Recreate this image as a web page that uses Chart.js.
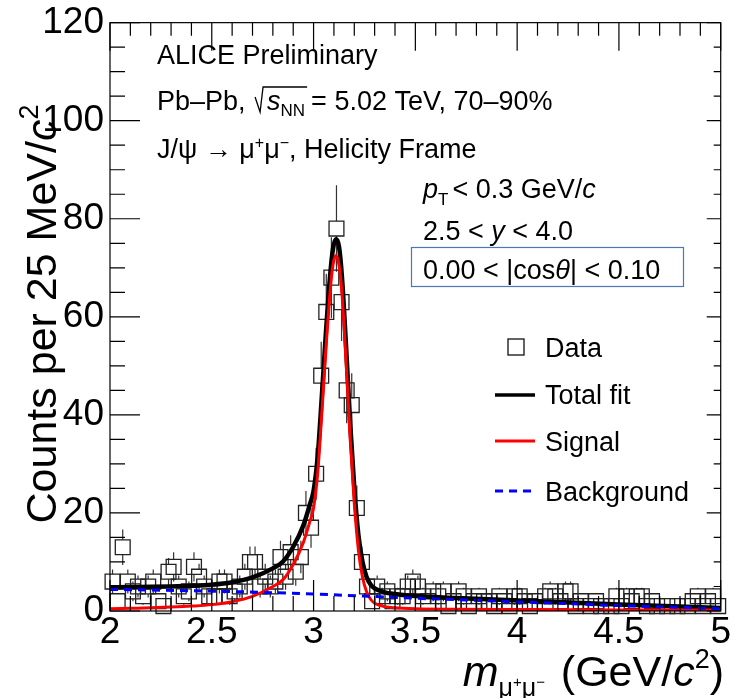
<!DOCTYPE html>
<html>
<head>
<meta charset="utf-8">
<script src="https://cdn.jsdelivr.net/npm/chart.js@4.4.1/dist/chart.umd.min.js"></script>
<style>
  html, body { margin: 0; padding: 0; background: #fff; }
  canvas { display: block; }
</style>
</head>
<body>
<canvas id="massChart" width="734" height="698"></canvas>
<script>
// histogram binning: 2.0 - 5.0 GeV/c2, 25 MeV bins
const binLow = 2.0;
const binWidth = 0.025;
const counts = [
  6, 2, 13, 6, 4, 5, 3, 5, 6, 2,
  1, 8, 9, 5, 3, 4, 9, 7, 5, 3,
  3, 6, 6, 3, 4, 5, 7, 10, 10, 5,
  7, 5, 6, 11, 7, 12, 8, 11, 20, 17,
  28, 48, 61, 68, 78, 63, 45, 42, 21, 10,
  5, 2, 5, 3, 4, 2, 3, 3, 5, 6,
  5, 3, 2, 4, 3, 4, 1, 2, 4, 3,
  1, 2, 3, 2, 2, 1, 3, 2, 1, 3,
  3, 2, 1, 2, 0, 3, 4, 3, 2, 4,
  4, 1, 2, 0, 1, 2, 1, 0, 1, 3,
  1, 3, 2, 3, 3, 1, 2, 1, 0, 1,
  0, 1, 0, 1, 2, 3, 1, 2, 3, 1
];

// fit curves
const fitMass = [2.0, 2.1, 2.2, 2.3, 2.4, 2.5, 2.6, 2.7, 2.8, 2.85, 2.9, 2.95, 2.98, 3.0, 3.02, 3.04,
  3.06, 3.08, 3.095, 3.11, 3.125, 3.14, 3.16, 3.18, 3.2, 3.22, 3.24, 3.26, 3.28, 3.3, 3.35, 3.4,
  3.5, 3.7, 4.0, 4.5, 5.0];
const signalFit = [0.45, 0.55, 0.65, 0.8, 1.0, 1.3, 1.9, 3.0, 5.0, 6.4, 9.5, 14, 18, 21, 28, 40,
  53, 64.5, 70.5, 72.5, 70.5, 64.5, 50.5, 35, 22, 12.5, 7, 4, 2.4, 1.6, 0.9, 0.65,
  0.45, 0.35, 0.3, 0.22, 0.18];
const totalFit = [4.85, 4.9, 4.93, 5.0, 5.13, 5.35, 5.85, 6.85, 8.7, 10.1, 13.1, 17.5, 21.5, 24.5, 31.4, 43.4,
  56.4, 67.8, 73.8, 75.8, 74.3, 67.8, 53.7, 38.2, 25.2, 15.6, 10.1, 7.0, 5.4, 4.6, 3.8, 3.47,
  3.05, 2.67, 2.15, 1.32, 0.63];
const bgMass = [2.0, 2.25, 2.5, 2.75, 3.0, 3.25, 3.5, 3.75, 4.0, 4.25, 4.5, 4.75, 5.0];
const bgFit = [4.4, 4.25, 4.05, 3.8, 3.45, 3.05, 2.6, 2.25, 1.85, 1.5, 1.1, 0.8, 0.45];

const xTickLabels = ['2', '2.5', '3', '3.5', '4', '4.5', '5'];
const yTickLabels = ['0', '20', '40', '60', '80', '100', '120'];

const FONT = '"Liberation Sans", Arial, Helvetica, sans-serif';
const markerHalf = 7.4;

const dataPoints = counts.map((c, i) => ({ x: binLow + (i + 0.5) * binWidth, y: c }));
const toXY = (xs, ys) => xs.map((m, i) => ({ x: m, y: ys[i] }));

function drawRich(ctx, x, y, parts) {
  for (const p of parts) {
    ctx.font = (p.italic ? 'italic ' : '') + p.size + 'px ' + FONT;
    ctx.fillText(p.t, x, y + (p.dy || 0));
    x += ctx.measureText(p.t).width + (p.gap || 0);
  }
  return x;
}

function richWidth(ctx, parts) {
  let w = 0;
  for (const p of parts) {
    ctx.font = (p.italic ? 'italic ' : '') + p.size + 'px ' + FONT;
    w += ctx.measureText(p.t).width + (p.gap || 0);
  }
  return w;
}

const errorBars = {
  id: 'errorBars',
  beforeDatasetsDraw(chart) {
    const { ctx, scales: { x, y } } = chart;
    ctx.save();
    ctx.strokeStyle = '#333';
    ctx.lineWidth = 1.2;
    ctx.beginPath();
    dataPoints.forEach(p => {
      if (p.y <= 0) return;
      const err = Math.sqrt(p.y);
      const px = x.getPixelForValue(p.x);
      const py = y.getPixelForValue(p.y);
      const up = y.getPixelForValue(p.y + err);
      const dn = Math.min(y.getPixelForValue(p.y - err), y.bottom);
      if (up < py - markerHalf) { ctx.moveTo(px, up); ctx.lineTo(px, py - markerHalf); }
      if (dn > py + markerHalf) { ctx.moveTo(px, py + markerHalf); ctx.lineTo(px, dn); }
    });
    ctx.stroke();
    ctx.restore();
  }
};

const decorations = {
  id: 'decorations',
  afterDraw(chart) {
    const { ctx, chartArea: a, scales: { x, y } } = chart;
    ctx.save();
    // frame + ticks
    ctx.strokeStyle = '#000';
    ctx.lineWidth = 1.2;
    ctx.strokeRect(a.left, a.top, a.right - a.left, a.bottom - a.top);
    ctx.beginPath();
    for (let k = 20; k <= 50; k++) {
      const px = x.getPixelForValue(k / 10);
      const len = k % 5 === 0 ? 31 : 15;
      ctx.moveTo(px, a.bottom); ctx.lineTo(px, a.bottom - len);
      ctx.moveTo(px, a.top); ctx.lineTo(px, a.top + (k % 5 === 0 ? 28 : 13));
    }
    for (let k = 0; k <= 24; k++) {
      const py = y.getPixelForValue(k * 5);
      const major = k % 4 === 0;
      ctx.moveTo(a.left, py); ctx.lineTo(a.left + (major ? 30 : 15), py);
      ctx.moveTo(a.right, py); ctx.lineTo(a.right - (major ? 14 : 7), py);
    }
    ctx.stroke();

    ctx.fillStyle = '#000';
    ctx.textBaseline = 'alphabetic';
    ctx.textAlign = 'left';

    // axis titles
    const xt = [
      { t: 'm', size: 43, italic: true },
      { t: 'μ', size: 25, dy: 10 },
      { t: '+', size: 15, dy: 1 },
      { t: 'μ', size: 25, dy: 10 },
      { t: '−', size: 15, dy: 1, gap: 4 },
      { t: ' (GeV/', size: 43 },
      { t: 'c', size: 43, italic: true },
      { t: '2', size: 27, dy: -18 },
      { t: ')', size: 43 }
    ];
    drawRich(ctx, 724 - richWidth(ctx, xt), 686, xt);

    const yt = [
      { t: 'Counts per 25 MeV/', size: 43 },
      { t: 'c', size: 43, italic: true },
      { t: '2', size: 27, dy: -18 }
    ];
    ctx.save();
    ctx.translate(56, 314);
    ctx.rotate(-Math.PI / 2);
    drawRich(ctx, -richWidth(ctx, yt) / 2, 0, yt);
    ctx.restore();

    // info text
    drawRich(ctx, 157, 64, [{ t: 'ALICE Preliminary', size: 27 }]);
    let cx = drawRich(ctx, 157, 110, [{ t: 'Pb–Pb, ', size: 27 }]);
    const rx = cx + 2;
    const sx = drawRich(ctx, rx + 12, 110, [{ t: 's', size: 27, italic: true }]);
    const ex = drawRich(ctx, sx, 110, [{ t: 'NN', size: 17, dy: 6 }]);
    ctx.beginPath();
    ctx.lineWidth = 1.3;
    ctx.moveTo(rx, 97); ctx.lineTo(rx + 5, 112); ctx.lineTo(rx + 8, 87); ctx.lineTo(ex + 2, 87);
    ctx.stroke();
    drawRich(ctx, ex + 6, 110, [{ t: '= 5.02 TeV, 70–90%', size: 27 }]);

    drawRich(ctx, 157, 158, [
      { t: 'J/ψ → μ', size: 27 },
      { t: '+', size: 16, dy: -10 },
      { t: 'μ', size: 27 },
      { t: '−', size: 16, dy: -10 },
      { t: ', Helicity Frame', size: 27 }
    ]);

    drawRich(ctx, 423, 198, [
      { t: 'p', size: 27, italic: true },
      { t: 'T', size: 17, dy: 7, gap: 4 },
      { t: '< 0.3 GeV/', size: 27 },
      { t: 'c', size: 27, italic: true }
    ]);
    drawRich(ctx, 423, 240, [
      { t: '2.5 < ', size: 27 },
      { t: 'y', size: 27, italic: true },
      { t: ' < 4.0', size: 27 }
    ]);
    ctx.strokeStyle = '#4a78b4';
    ctx.lineWidth = 1.2;
    ctx.strokeRect(411.5, 247.5, 272, 39);
    drawRich(ctx, 423, 279, [
      { t: '0.00 < |cos', size: 27 },
      { t: 'θ', size: 27, italic: true },
      { t: '| < 0.10', size: 27 }
    ]);

    // legend
    ctx.strokeStyle = '#222';
    ctx.lineWidth = 1.4;
    ctx.strokeRect(508, 339, 16, 16);
    ctx.lineWidth = 3.5;
    ctx.strokeStyle = '#000';
    ctx.beginPath(); ctx.moveTo(495, 395); ctx.lineTo(535, 395); ctx.stroke();
    ctx.lineWidth = 3;
    ctx.strokeStyle = '#ff0000';
    ctx.beginPath(); ctx.moveTo(495, 441); ctx.lineTo(535, 441); ctx.stroke();
    ctx.strokeStyle = '#0000ff';
    ctx.setLineDash([8, 6]);
    ctx.beginPath(); ctx.moveTo(495, 491); ctx.lineTo(537, 491); ctx.stroke();
    ctx.setLineDash([]);
    drawRich(ctx, 545, 357, [{ t: 'Data', size: 27 }]);
    drawRich(ctx, 545, 404, [{ t: 'Total fit', size: 27 }]);
    drawRich(ctx, 545, 451, [{ t: 'Signal', size: 27 }]);
    drawRich(ctx, 545, 501, [{ t: 'Background', size: 27 }]);
    ctx.restore();
  }
};

new Chart(document.getElementById('massChart'), {
  type: 'scatter',
  data: {
    datasets: [
      {
        label: 'Data',
        data: dataPoints,
        order: 10,
        clip: false,
        pointStyle: 'rect',
        pointRadius: c => (c.raw && c.raw.y > 0 ? 10.5 : 0),
        pointBorderColor: '#222',
        pointBackgroundColor: 'rgba(0,0,0,0)',
        pointBorderWidth: 1.3
      },
      {
        label: 'Total fit',
        data: toXY(fitMass, totalFit),
        order: 3,
        showLine: true,
        pointRadius: 0,
        borderColor: '#000',
        borderWidth: 4.5,
        cubicInterpolationMode: 'monotone'
      },
      {
        label: 'Signal',
        data: toXY(fitMass, signalFit),
        order: 2,
        showLine: true,
        pointRadius: 0,
        borderColor: '#ff0000',
        borderWidth: 3,
        cubicInterpolationMode: 'monotone'
      },
      {
        label: 'Background',
        data: toXY(bgMass, bgFit),
        order: 1,
        showLine: true,
        pointRadius: 0,
        borderColor: '#0000ff',
        borderWidth: 3,
        borderDash: [8, 6],
        cubicInterpolationMode: 'monotone'
      }
    ]
  },
  options: {
    responsive: false,
    animation: false,
    events: [],
    layout: { padding: { left: 0, top: 18, right: 9, bottom: 0 } },
    plugins: { legend: { display: false }, tooltip: { enabled: false } },
    scales: {
      x: {
        type: 'linear',
        min: 2, max: 5,
        grid: { display: false, drawTicks: false },
        border: { display: false },
        afterFit: s => { s.height = 87; },
        afterBuildTicks: s => { s.ticks = xTickLabels.map(v => ({ value: Number(v) })); },
        ticks: {
          callback: v => xTickLabels.find(t => Number(t) === v),
          maxRotation: 0, autoSkip: false,
          padding: 3,
          color: '#000',
          font: { family: FONT, size: 37, lineHeight: 1 }
        }
      },
      y: {
        type: 'linear',
        min: 0, max: 120,
        grid: { display: false, drawTicks: false },
        border: { display: false },
        afterFit: s => { s.width = 110; },
        afterBuildTicks: s => { s.ticks = yTickLabels.map(v => ({ value: Number(v) })); },
        ticks: {
          callback: v => yTickLabels.find(t => Number(t) === v),
          autoSkip: false,
          padding: 6,
          color: '#000',
          font: { family: FONT, size: 37, lineHeight: 0.9 }
        }
      }
    }
  },
  plugins: [errorBars, decorations]
});
</script>
</body>
</html>
